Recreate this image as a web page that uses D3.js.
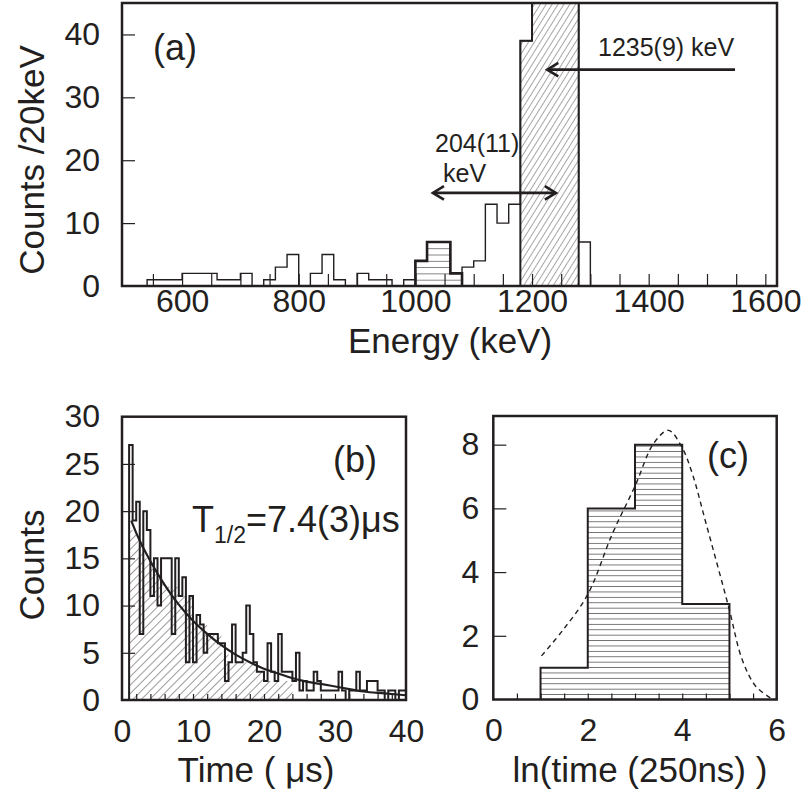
<!DOCTYPE html>
<html><head><meta charset="utf-8">
<script src="https://cdn.jsdelivr.net/npm/d3@7"></script>
<style>
body{margin:0;background:#fff}
text{font-family:"Liberation Sans",Arial,Helvetica,sans-serif;fill:#231f20}
</style>
</head><body>
<svg id="chart" width="808" height="792"></svg>
<script>
// ---------------- DATA ----------------
// Panel (a): energy spectrum, 20 keV bins starting at 540 keV
const aBinStart = 540, aBinWidth = 20;
const aCounts = [1,1,1,2,2,2,1,1,2,0, 1,3,5,0,2,5,1,0,2,1, 1,0,1,4,7,7,2,3,4,13, 10,13,39,62,95,88,54,7];
// gated (horizontal hatch) part
const aGateStart = 1000;
const aGateCounts = [4,7,7,2];
// peak (diagonal hatch) part
const aPeakStart = 1180;
const aPeakCounts = [39,62,95,88,54];
const aXTicks = [600,800,1000,1200,1400,1600];
const aYTicks = [0,10,20,30,40];
// arrows (energy keV, counts)
const arrow1235 = [[1548,34.4],[1226,34.4]];
const arrow204 = [[1030,14.8],[1241,14.8]];

// Panel (b): time spectrum, 0.5 us bins starting at 1.0 us
const bBinStart = 1.0, bBinWidth = 0.5;
const bCounts = [27,19,21,7,20,18,11,15,10,15, 15,15,7,15,11,13,4,11,4,9,
                 8,5,7,7,7,6,6,2,4,8, 4,4,5,10,7,4,3,3,2,6,
                 3,2,7,3,3,3,2,5,1,2, 1,1,3,2,1,1,1,1,1,3,
                 1,0,1,1,3,1,1,2,2,2, 1,1,0,1,1,0,1,1];
// hatched part, 1 us bins starting at 1 us
const bHatchStart = 1.0, bHatchWidth = 1.0;
const bHatchCounts = [18,17,15,14,13,12,12,11,11,8, 8,7,7,5,4,4,4,4,3,2, 2,2,2];
// exponential fit curve (time us, counts)
const bFitT = [1.3,2,4,6,8,10,12,14,16,18,20,22,25,28,31,34,37,40];
const bFitC = [19,17.7,14.7,12.2,10.1,8.4,7.0,5.8,4.8,4.0,3.3,2.8,2.1,1.7,1.3,0.9,0.7,0.5];
const bXTicks = [0,10,20,30,40];
const bYTicks = [0,5,10,15,20,25,30];

// Panel (c): ln(time) histogram, unit bins starting at 1
const cBinStart = 1, cBinWidth = 1;
const cCounts = [1,6,8,3];
const cCurveX = [1.02,1.48,2.0,2.52,3.0,3.4,3.71,4.0,4.22,4.5,4.98,5.27,5.56,5.88];
const cCurveY = [1.37,2.19,3.3,5.2,6.7,8.05,8.45,7.9,7.06,5.55,2.92,1.25,0.41,0.04];
const cXTicks = [0,2,4,6];
const cYTicks = [0,2,4,6,8];

// ---------------- DRAW ----------------
const svg = d3.select('#chart');
const defs = svg.append('defs');
const ink = '#231f20';
const tickFont = 32, titleFont = 35, panelFont = 36;

function bins(start, width, counts){
  return counts.map((c,i)=>({x0:start+i*width, x1:start+(i+1)*width, c}));
}
function stepPts(start, width, counts){
  const b = bins(start,width,counts);
  const pts = [[start,0]];
  b.forEach(d=>{pts.push([d.x0,d.c]);pts.push([d.x1,d.c]);});
  pts.push([b[b.length-1].x1,0]);
  return pts;
}
function hatchPattern(id, w, angle, stroke, sw){
  const p = defs.append('pattern').attr('id',id).attr('patternUnits','userSpaceOnUse')
    .attr('width',w).attr('height',w).attr('patternTransform',`rotate(${angle})`);
  p.append('line').attr('x1',0).attr('y1',-1).attr('x2',0).attr('y2',w+1)
    .attr('stroke',stroke).attr('stroke-width',sw);
}
function hPattern(id, h, y0, sw){
  const p = defs.append('pattern').attr('id',id).attr('patternUnits','userSpaceOnUse')
    .attr('width',20).attr('height',h).attr('y',y0);
  p.append('line').attr('x1',0).attr('x2',20).attr('y1',0).attr('y2',0)
    .attr('stroke',ink).attr('stroke-width',sw);
}
function frame(xs, ys){
  const [x0,x1] = xs.range(), [y0,y1] = ys.range();
  svg.append('rect').attr('x',x0).attr('y',y1).attr('width',x1-x0).attr('height',y0-y1)
    .attr('fill','none').attr('stroke',ink).attr('stroke-width',2.5);
}
function clip(id, xs, ys){
  const [x0,x1] = xs.range(), [y0,y1] = ys.range();
  defs.append('clipPath').attr('id',id).append('rect')
    .attr('x',x0).attr('y',y1).attr('width',x1-x0).attr('height',y0-y1);
}
function styleAxis(g, fs){
  g.select('.domain').remove();
  g.selectAll('line').attr('stroke',ink).attr('stroke-width',1.2);
  g.selectAll('text').attr('font-size',fs).attr('fill',ink)
   .attr('font-family','"Liberation Sans",Arial,Helvetica,sans-serif');
}
function axes(xs, ys, o){
  const yb = ys.range()[0], xl = xs.range()[0];
  const gx = svg.append('g').attr('transform',`translate(0,${yb})`)
    .call(d3.axisBottom(xs).tickValues(o.xMinor).tickSize(-o.xTick).tickFormat(''));
  styleAxis(gx, tickFont);
  const gxl = svg.append('g').attr('transform',`translate(0,${yb})`)
    .call(d3.axisBottom(xs).tickValues(o.xLab).tickSize(0).tickPadding(o.xPad).tickFormat(d3.format('d')));
  styleAxis(gxl, tickFont);
  const gy = svg.append('g').attr('transform',`translate(${xl},0)`)
    .call(d3.axisLeft(ys).tickValues(o.yMinor).tickSize(-o.yTick).tickFormat(''));
  styleAxis(gy, tickFont);
  const gyl = svg.append('g').attr('transform',`translate(${xl},0)`)
    .call(d3.axisLeft(ys).tickValues(o.yLab).tickSize(0).tickPadding(o.yPad).tickFormat(d3.format('d')));
  styleAxis(gyl, tickFont);
}
function arrowHead(g, xs, ys, from, to){
  const x1 = xs(from[0]), y1 = ys(from[1]), x2 = xs(to[0]), y2 = ys(to[1]);
  const ang = Math.atan2(y2-y1, x2-x1), L = 13, A = 0.55;
  const p = d3.path();
  p.moveTo(x2 - L*Math.cos(ang-A), y2 - L*Math.sin(ang-A));
  p.lineTo(x2, y2);
  p.lineTo(x2 - L*Math.cos(ang+A), y2 - L*Math.sin(ang+A));
  g.append('path').attr('d',p.toString()).attr('fill','none').attr('stroke',ink)
    .attr('stroke-width',2.6).attr('stroke-linejoin','miter');
}

// ===== Panel (a) =====
const ax = d3.scaleLinear().domain([497,1620]).range([122,777]);
const ay = d3.scaleLinear().domain([0,45]).range([286,3]);
clip('clipA', ax, ay);
hatchPattern('diagA', 5, 32, ink, 0.8);
hPattern('horA', ay(0)-ay(1), ay(0), 1.1);
const lineA = d3.line().x(d=>ax(d[0])).y(d=>ay(d[1]));
const gA = svg.append('g').attr('clip-path','url(#clipA)');
gA.append('path').attr('d',lineA(stepPts(aPeakStart,aBinWidth,aPeakCounts)))
  .attr('fill','url(#diagA)').attr('stroke',ink).attr('stroke-width',2);
gA.append('path').attr('d',lineA(stepPts(aGateStart,aBinWidth,aGateCounts)))
  .attr('fill','url(#horA)').attr('stroke',ink).attr('stroke-width',2.6);
gA.append('path').attr('d',lineA(stepPts(aBinStart,aBinWidth,aCounts)))
  .attr('fill','none').attr('stroke',ink).attr('stroke-width',1.4);
axes(ax, ay, {xMinor:d3.range(550,1601,50), xLab:aXTicks, xTick:12, xPad:3,
              yMinor:[10,20,30,40], yLab:aYTicks, yTick:13, yPad:22});
frame(ax, ay);
// arrows
const gArr = svg.append('g');
gArr.append('path').attr('d',lineA(arrow1235)).attr('stroke',ink).attr('stroke-width',2.6).attr('fill','none');
arrowHead(gArr, ax, ay, arrow1235[0], arrow1235[1]);
gArr.append('path').attr('d',lineA(arrow204)).attr('stroke',ink).attr('stroke-width',2.6).attr('fill','none');
arrowHead(gArr, ax, ay, arrow204[0], arrow204[1]);
arrowHead(gArr, ax, ay, arrow204[1], arrow204[0]);
svg.append('text').attr('x',598).attr('y',56).attr('font-size',25).text('1235(9) keV');
svg.append('text').attr('x',435).attr('y',152).attr('font-size',25).text('204(11)');
svg.append('text').attr('x',443).attr('y',182).attr('font-size',25).text('keV');
svg.append('text').attr('x',153).attr('y',60).attr('font-size',panelFont).text('(a)');
svg.append('text').attr('x',450).attr('y',353).attr('text-anchor','middle').attr('font-size',titleFont).text('Energy (keV)');
svg.append('text').attr('transform','translate(44,160) rotate(-90)').attr('text-anchor','middle')
  .attr('font-size',titleFont).text('Counts /20keV');

// ===== Panel (b) =====
const bx = d3.scaleLinear().domain([0,40]).range([122,406]);
const by = d3.scaleLinear().domain([0,30]).range([700,416.7]);
clip('clipB', bx, by);
hatchPattern('diagB', 6, 45, ink, 0.9);
const lineB = d3.line().x(d=>bx(d[0])).y(d=>by(d[1]));
const gB = svg.append('g').attr('clip-path','url(#clipB)');
gB.append('path').attr('d',lineB(stepPts(bHatchStart,bHatchWidth,bHatchCounts)))
  .attr('fill','url(#diagB)').attr('stroke','none');
gB.append('path').attr('d',lineB(stepPts(bBinStart,bBinWidth,bCounts)))
  .attr('fill','none').attr('stroke',ink).attr('stroke-width',2.0);
gB.append('path').attr('d',d3.line().curve(d3.curveMonotoneX).x((d,i)=>bx(bFitT[i])).y((d,i)=>by(bFitC[i]))(bFitT))
  .attr('fill','none').attr('stroke',ink).attr('stroke-width',2.2);
axes(bx, by, {xMinor:d3.range(2,40,2), xLab:bXTicks, xTick:6, xPad:19,
              yMinor:[5,10,15,20,25], yLab:bYTicks, yTick:13, yPad:22});
frame(bx, by);
svg.append('text').attr('x',333).attr('y',472).attr('font-size',panelFont).text('(b)');
const tt = svg.append('text').attr('x',192).attr('y',532).attr('font-size',panelFont);
tt.append('tspan').text('T');
tt.append('tspan').attr('font-size',23).attr('dy',11).text('1/2');
tt.append('tspan').attr('dy',-11).text('=7.4(3)\u03BCs');
svg.append('text').attr('x',256).attr('y',782).attr('text-anchor','middle').attr('font-size',titleFont).text('Time ( \u03BCs)');
svg.append('text').attr('transform','translate(44,565) rotate(-90)').attr('text-anchor','middle')
  .attr('font-size',titleFont).text('Counts');

// ===== Panel (c) =====
const cx = d3.scaleLinear().domain([0,6]).range([493.3,776.7]);
const cy = d3.scaleLinear().domain([0,8.9]).range([699.5,416]);
clip('clipC', cx, cy);
hPattern('horC', 5.4, cy(0), 1.2);
const lineC = d3.line().x(d=>cx(d[0])).y(d=>cy(d[1]));
const gC = svg.append('g').attr('clip-path','url(#clipC)');
gC.append('path').attr('d',lineC(stepPts(cBinStart,cBinWidth,cCounts)))
  .attr('fill','url(#horC)').attr('stroke',ink).attr('stroke-width',2);
gC.append('path').attr('d',d3.line().curve(d3.curveCatmullRom).x((d,i)=>cx(cCurveX[i])).y((d,i)=>cy(cCurveY[i]))(cCurveX))
  .attr('fill','none').attr('stroke',ink).attr('stroke-width',1.4).attr('stroke-dasharray','5,4');
axes(cx, cy, {xMinor:d3.range(0.5,6,0.5), xLab:cXTicks, xTick:6, xPad:19,
              yMinor:[2,4,6,8], yLab:cYTicks, yTick:13, yPad:14});
frame(cx, cy);
svg.append('text').attr('x',707).attr('y',468).attr('font-size',panelFont).text('(c)');
svg.append('text').attr('x',640).attr('y',782).attr('text-anchor','middle').attr('font-size',titleFont).text('ln(time (250ns) )');
</script>
</body></html>
